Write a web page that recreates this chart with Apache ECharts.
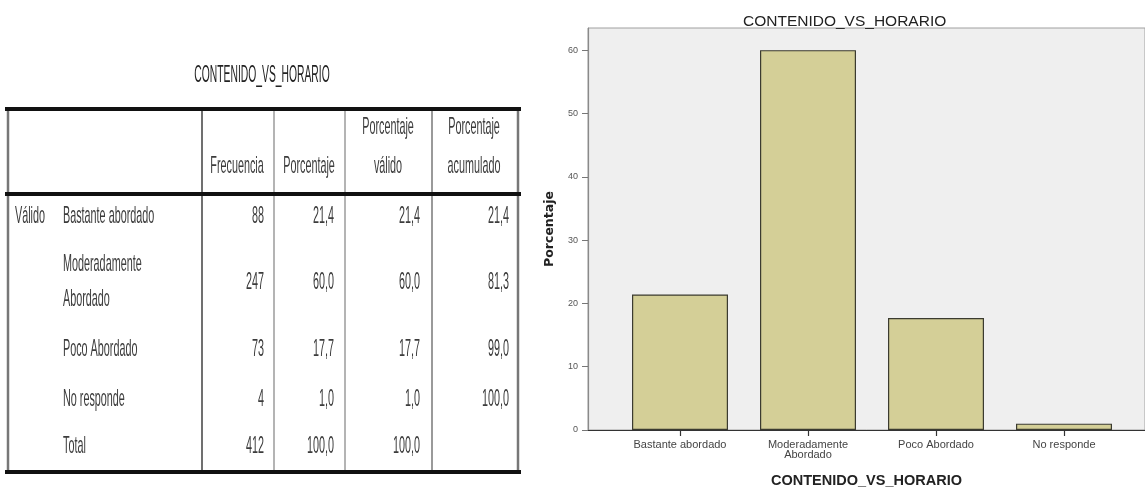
<!DOCTYPE html>
<html>
<head>
<meta charset="utf-8">
<script src="https://cdn.jsdelivr.net/npm/echarts@6/dist/echarts.min.js"></script>
<style>
html,body{margin:0;padding:0;background:#fff;}
#chart{width:1145px;height:488px;}
</style>
</head>
<body>
<div id="chart"></div>
<script>
// ---- data ----
const chartTitle = 'CONTENIDO_VS_HORARIO';
const categories = ['Bastante abordado', 'Moderadamente\nAbordado', 'Poco Abordado', 'No responde'];
const frecuencia = [88, 247, 73, 4];
const porcentaje = [21.4, 60.0, 17.7, 1.0];
const porcentajeValido = [21.4, 60.0, 17.7, 1.0];
const porcentajeAcumulado = [21.4, 81.3, 99.0, 100.0];
const totalRow = ['Total', 412, 100.0, 100.0];
const headerCols = ['Frecuencia', 'Porcentaje', 'Porcentaje\nválido', 'Porcentaje\nacumulado'];
const groupLabel = 'Válido';
const yTicks = [0, 10, 20, 30, 40, 50, 60];
const yName = 'Porcentaje';

// ---- layout (table) ----
const FONT = '"Liberation Sans", Arial, sans-serif';
const colRight = [264, 334, 420, 509];
const colCenter = [237, 309, 388, 474];
const rowY = [216, 282, 349, 399, 446];
const SX = 0.45;
const TXT = '#3c3c3c';

function fmt1(v) { return v.toFixed(1).replace('.', ','); }

const graphics = [];
function txt(x, y, s, align, opts) {
  opts = opts || {};
  graphics.push({
    type: 'text', x: x, y: y, scaleX: opts.sx || SX,
    style: {
      x: 0, y: 0, text: s, fill: opts.fill || TXT,
      font: (opts.weight || 'normal') + ' ' + (opts.size || 24) + 'px ' + FONT,
      align: align, verticalAlign: 'middle', lineHeight: opts.lh || 35
    }
  });
}
function line(x1, y1, x2, y2, stroke, w) {
  graphics.push({ type: 'line', shape: { x1: x1, y1: y1, x2: x2, y2: y2 }, style: { stroke: stroke, lineWidth: w } });
}

// table title
txt(262, 75, chartTitle, 'center', { sx: 0.43, fill: '#222' });
// table rules
const tTop = 109, tHead = 194, tBot = 472;
line(8, tTop, 8, tBot, '#777', 2.5);
line(202, tTop, 202, tBot, '#707070', 2);
line(274, tTop, 274, tBot, '#b4b4b4', 2);
line(345, tTop, 345, tBot, '#b4b4b4', 2);
line(432, tTop, 432, tBot, '#9a9a9a', 2);
line(518, tTop, 518, tBot, '#777', 2.5);
line(5, tTop, 521, tTop, '#111', 4);
line(5, tHead, 521, tHead, '#111', 4);
line(5, tBot, 521, tBot, '#111', 4);
// headers
headerCols.forEach(function (h, i) {
  const parts = h.split('\n');
  if (parts.length === 1) txt(colCenter[i], 166, h, 'center');
  else { txt(colCenter[i], 127, parts[0], 'center'); txt(colCenter[i], 166, parts[1], 'center'); }
});
// body
txt(15, rowY[0], groupLabel, 'left');
categories.forEach(function (c, r) {
  txt(63, rowY[r], c, 'left');
  txt(colRight[0], rowY[r], String(frecuencia[r]), 'right');
  txt(colRight[1], rowY[r], fmt1(porcentaje[r]), 'right');
  txt(colRight[2], rowY[r], fmt1(porcentajeValido[r]), 'right');
  txt(colRight[3], rowY[r], fmt1(porcentajeAcumulado[r]), 'right');
});
txt(63, rowY[4], totalRow[0], 'left');
txt(colRight[0], rowY[4], String(totalRow[1]), 'right');
txt(colRight[1], rowY[4], fmt1(totalRow[2]), 'right');
txt(colRight[2], rowY[4], fmt1(totalRow[3]), 'right');

// ---- chart ----
const chart = echarts.init(document.getElementById('chart'), null, { renderer: 'canvas' });
const YMAX = 63.5;
chart.setOption({
  animation: false,
  title: {
    text: chartTitle, left: 738, top: 9,
    textStyle: { fontFamily: FONT, fontSize: 15.5, fontWeight: 'normal', color: '#222' }
  },
  grid: [
    { left: 588, top: 28, right: 0, bottom: 58, show: true, backgroundColor: '#efefef', borderColor: '#a0a0a0', borderWidth: 1, containLabel: false, outerBoundsMode: 'none' },
    { left: 616, top: 28, width: 512, bottom: 58, containLabel: false, outerBoundsMode: 'none' }
  ],
  xAxis: [
    {
      gridIndex: 0, type: 'value', min: 0, max: 1,
      axisLine: { show: true, onZero: false, lineStyle: { color: '#333', width: 1.2 } },
      axisTick: { show: false }, axisLabel: { show: false }, splitLine: { show: false },
      name: chartTitle, nameLocation: 'middle', nameGap: 43,
      nameTextStyle: { fontFamily: FONT, fontSize: 14.5, fontWeight: 'bold', color: '#222' }
    },
    {
      gridIndex: 1, type: 'category', data: categories, boundaryGap: true,
      axisLine: { show: false },
      axisTick: { show: true, alignWithLabel: true, length: 6, lineStyle: { color: '#333', width: 1.2 } },
      axisLabel: { fontFamily: FONT, fontSize: 11, color: '#444', margin: 10, lineHeight: 10, interval: 0 }
    }
  ],
  yAxis: [
    {
      gridIndex: 0, type: 'value', min: 0, max: YMAX, interval: 10,
      axisLine: { show: true, lineStyle: { color: '#8a8a8a', width: 1.2 } },
      axisTick: { show: true, length: 6, customValues: yTicks, lineStyle: { color: '#777' } },
      axisLabel: { customValues: yTicks, fontFamily: FONT, fontSize: 9, color: '#555', margin: 10 },
      splitLine: { show: false },
      name: yName, nameLocation: 'middle', nameRotate: 90, nameGap: 32,
      nameTextStyle: { fontFamily: '"DejaVu Sans", sans-serif', fontSize: 12.5, fontWeight: 'bold', color: '#222' }
    },
    { gridIndex: 1, type: 'value', min: 0, max: YMAX, show: false }
  ],
  series: [{
    type: 'bar', xAxisIndex: 1, yAxisIndex: 1, data: porcentaje, barWidth: 96,
    itemStyle: { color: '#d4cf97', borderColor: '#3b3b30', borderWidth: 1.2 }
  }],
  graphic: graphics
});
</script>
</body>
</html>
